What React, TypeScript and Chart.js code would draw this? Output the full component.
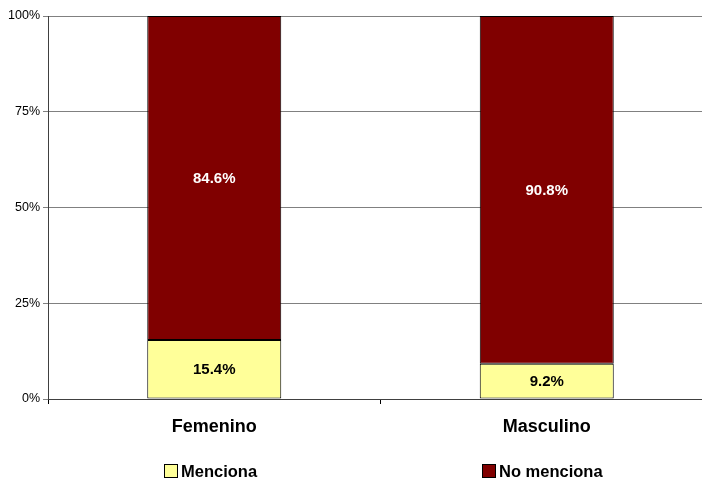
import React, { useEffect, useRef } from "react";
import { Chart, registerables } from "chart.js";

Chart.register(...registerables);

const categories = ["Femenino", "Masculino"];
const menciona = [15.4, 9.2];
const noMenciona = [84.6, 90.8];
const seriesNames = ["Menciona", "No menciona"];
const yTicks = [0, 25, 50, 75, 100];

const FONT = "Arial, 'Liberation Sans', sans-serif";

export default function App() {
  const ref = useRef<HTMLCanvasElement>(null);
  useEffect(() => {
    if (!ref.current) return;
    const labelPlugin = {
      id: "labels",
      afterDatasetsDraw(chart: any) {
        const ctx = chart.ctx;
        ctx.save();
        ctx.font = `bold 15px ${FONT}`;
        ctx.textAlign = "center";
        ctx.textBaseline = "middle";
        chart.data.datasets.forEach((ds: any, di: number) => {
          const meta = chart.getDatasetMeta(di);
          meta.data.forEach((bar: any, i: number) => {
            const v = ds.data[i];
            const yMid = (bar.y + bar.base) / 2;
            ctx.fillStyle = di === 0 ? "#000000" : "#ffffff";
            ctx.fillText(v.toFixed(1) + "%", bar.x, yMid + 1);
          });
        });
        ctx.restore();
      },
      afterDraw(chart: any) {
        const ctx = chart.ctx;
        const xs = chart.scales.x;
        ctx.save();
        ctx.font = `bold 16.5px ${FONT}`;
        ctx.textBaseline = "middle";
        ctx.textAlign = "left";
        const y = 471;
        chart.data.datasets.forEach((ds: any, di: number) => {
          const cx = xs.getPixelForValue(di);
          const tw = ctx.measureText(ds.label).width;
          const box = 13;
          const gap = 4;
          const total = box + gap + tw;
          const x0 = Math.round(cx - total / 2) - 4;
          ctx.fillStyle = ds.backgroundColor;
          ctx.fillRect(x0 + 0.5, y - 6.5, box, box);
          ctx.strokeStyle = "#000";
          ctx.lineWidth = 1;
          ctx.strokeRect(x0 + 0.5, y - 6.5, box, box);
          ctx.fillStyle = "#000";
          ctx.fillText(ds.label, x0 + box + gap, y + 1);
        });
        ctx.restore();
      },
    };
    const chart = new Chart(ref.current, {
      type: "bar",
      data: {
        labels: categories,
        datasets: [
          {
            label: seriesNames[0],
            data: menciona,
            backgroundColor: "#FFFF99",
            borderColor: "#000000",
            borderWidth: 1,
            borderSkipped: false,
            barPercentage: 0.403,
            categoryPercentage: 1,
          },
          {
            label: seriesNames[1],
            data: noMenciona,
            backgroundColor: "#800000",
            borderColor: "#000000",
            borderWidth: 1,
            borderSkipped: false,
            barPercentage: 0.403,
            categoryPercentage: 1,
          },
        ],
      },
      options: {
        animation: false,
        responsive: false,
        devicePixelRatio: 1,
        layout: { padding: { top: 16, left: 0, right: 0, bottom: 0 } },
        plugins: {
          legend: { display: false },
          tooltip: { enabled: false },
        },
        scales: {
          x: {
            stacked: true,
            afterFit(scale: any) {
              scale.height = 81;
            },
            grid: {
              offset: true,
              drawOnChartArea: false,
              drawTicks: true,
              tickLength: 5,
              color: "#000000",
            },
            border: { display: true, color: "#404040", width: 1 },
            ticks: {
              font: { family: FONT, size: 18, weight: "bold" },
              color: "#000000",
              padding: 12,
              maxRotation: 0,
            },
          },
          y: {
            stacked: true,
            min: 0,
            max: 100,
            afterFit(scale: any) {
              scale.width = 48;
            },
            afterBuildTicks(scale: any) {
              scale.ticks = yTicks.map((v) => ({ value: v }));
            },
            grid: {
              color: "#808080",
              lineWidth: 1,
              tickLength: 5,
            },
            border: { display: true, color: "#404040", width: 1 },
            ticks: {
              font: { family: FONT, size: 12.5 },
              color: "#000000",
              padding: 3,
              callback: (v: any) => v + "%",
            },
          },
        },
      },
      plugins: [labelPlugin],
    });
    return () => chart.destroy();
  }, []);
  return (
    <div
      style={{
        position: "absolute",
        left: 0,
        top: 0,
        width: 702,
        height: 480,
        overflow: "hidden",
        background: "#fff",
      }}
    >
      <canvas ref={ref} width={713} height={480} style={{ display: "block" }} />
    </div>
  );
}
